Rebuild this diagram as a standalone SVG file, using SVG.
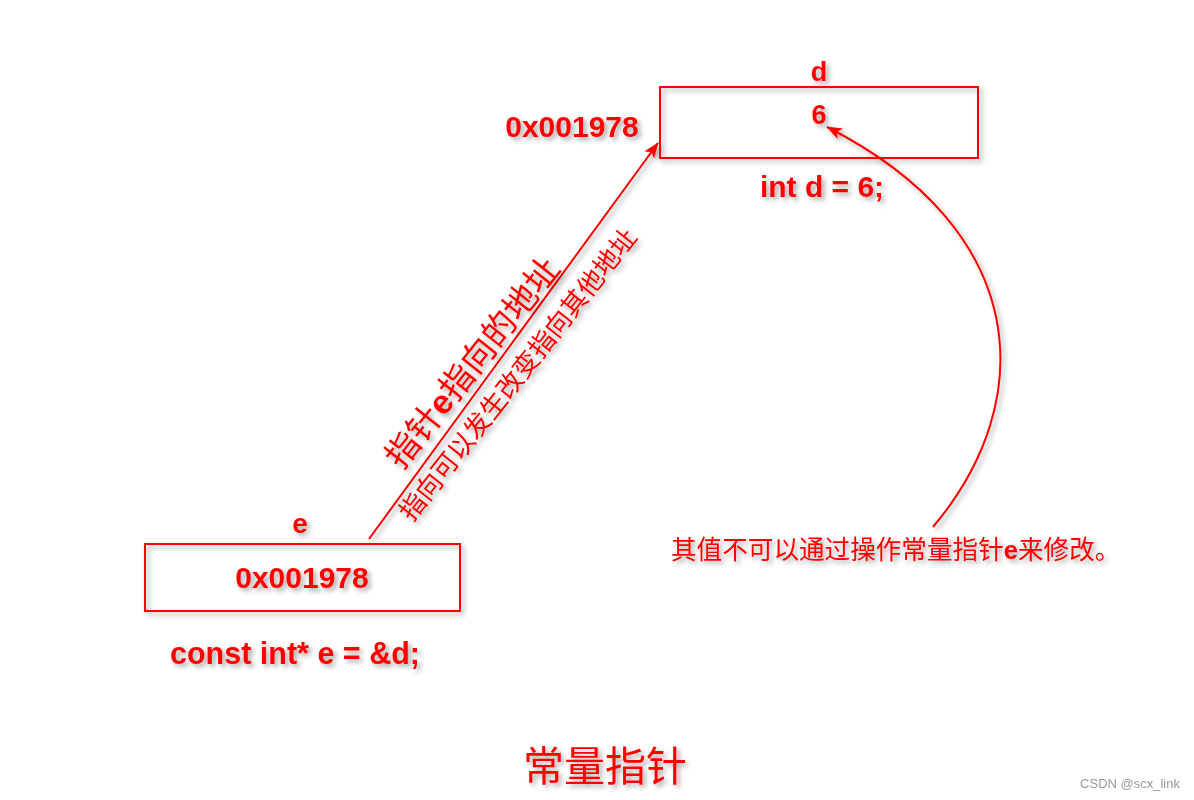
<svg xmlns="http://www.w3.org/2000/svg" width="1194" height="800" viewBox="0 0 1194 800">
<style>
.b{font-family:"Liberation Sans",Arial,sans-serif;font-weight:bold;fill:#ff0000;}
.c{font-family:"Noto Sans CJK SC",sans-serif;fill:#ff0000;}
.box{fill:none;stroke:#ff0000;stroke-width:2;}
.ln{fill:none;stroke:#ff0000;stroke-width:2;}
</style>
<defs>
<filter id="sh" x="-20%" y="-20%" width="140%" height="140%">
<feDropShadow dx="3" dy="3" stdDeviation="2.5" flood-color="#000" flood-opacity="0.35"/>
</filter>
<marker id="ah" viewBox="0 0 16 12" refX="15" refY="6" markerWidth="16" markerHeight="12" markerUnits="userSpaceOnUse" orient="auto">
<path d="M0,0 L16,6 L0,12 L4,6 Z" fill="#ff0000"/>
</marker>
</defs>
<rect width="1194" height="800" fill="#ffffff"/>
<g id="connectors" filter="url(#sh)">
<path class="ln" d="M369,539 L658,143" marker-end="url(#ah)"/>
<path class="ln" d="M933,527 C1040,400 1030,230 827,127" marker-end="url(#ah)"/>
</g>
<g id="node-d" filter="url(#sh)">
<rect class="box" x="660" y="87" width="318" height="71"/>
<text class="b" x="819" y="81" font-size="27" text-anchor="middle">d</text>
<text class="b" x="819" y="124" font-size="27" text-anchor="middle">6</text>
<text class="b" x="572" y="137" font-size="30" text-anchor="middle">0x001978</text>
<text class="b" x="822" y="197" font-size="30" text-anchor="middle">int d = 6;</text>
</g>
<g id="node-e" filter="url(#sh)">
<rect class="box" x="145" y="544" width="315" height="67"/>
<text class="b" x="300" y="533" font-size="28" text-anchor="middle">e</text>
<text class="b" x="302" y="588" font-size="30" text-anchor="middle">0x001978</text>
<text class="b" x="295" y="664" font-size="30.5" text-anchor="middle">const int* e = &amp;d;</text>
</g>
<g id="labels" filter="url(#sh)">
<text class="c" transform="translate(403,450) rotate(-51.6)" x="-17" y="12" font-size="34">指针<tspan font-family="Liberation Sans,sans-serif" font-weight="bold">e</tspan>指向的地址</text>
<text class="c" transform="translate(413,507) rotate(-51.6)" x="-13" y="9" font-size="26">指向可以发生改变指向其他地址</text>
<text class="c" x="671" y="559" font-size="25.6">其值不可以通过操作常量指针<tspan font-family="Liberation Sans,sans-serif" font-weight="bold">e</tspan>来修改。</text>
<text class="c" x="605" y="781" font-size="41" text-anchor="middle">常量指针</text>
</g>
<text x="1180" y="788" font-family="Liberation Sans,sans-serif" font-size="13" fill="#999999" text-anchor="end">CSDN @scx_link</text>
</svg>
